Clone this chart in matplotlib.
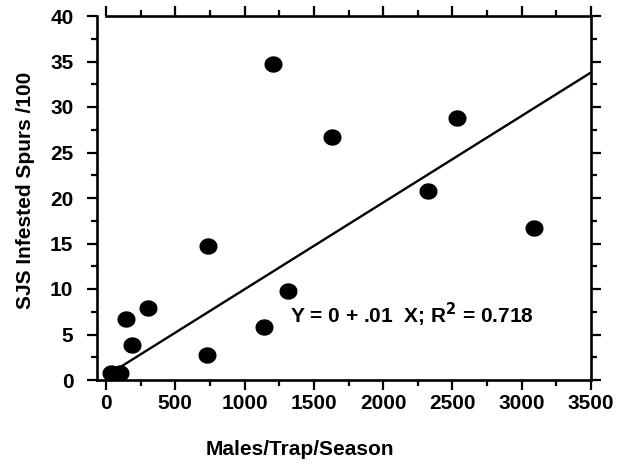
import matplotlib
matplotlib.use('Agg')
import matplotlib.pyplot as plt
from matplotlib.ticker import MultipleLocator
import numpy as np

# data
males = [36, 101, 144, 188, 303, 729, 736, 1140, 1205, 1313, 1631, 2324, 2533, 3088]
spurs = [0.8, 0.8, 6.7, 3.85, 7.9, 2.75, 14.7, 5.8, 34.7, 9.8, 26.7, 20.8, 28.8, 16.7]
fit_intercept = 0.44
fit_slope = 0.00953
fit_label = r'Y = 0 + .01  X; R$^\mathbf{2}$ = 0.718'

plt.rcParams['font.family'] = ['Liberation Sans', 'DejaVu Sans']
plt.rcParams['font.weight'] = 'bold'
plt.rcParams['mathtext.default'] = 'bf'

fig = plt.figure(figsize=(6.23, 4.66), dpi=100)
ax = fig.add_axes([97/623, 86/466, 494/623, 364/466])

# slightly flattened dot marker
t = np.linspace(0, 2*np.pi, 60)
dot = np.column_stack([np.cos(t), 0.9*np.sin(t)])
ax.plot(males, spurs, linestyle='none', marker=dot, markersize=12,
        color='black', zorder=3)

xfit = np.array([min(males), 3500])
ax.plot(xfit, fit_intercept + fit_slope*xfit, color='black', lw=1.7, zorder=2)

ax.text(1328, 7.1, fit_label, fontsize=15, fontweight='bold', va='center', ha='left')

ax.set_xlim(-65, 3500)
ax.set_ylim(0, 40)
ax.spines['top'].set_bounds(0, 3500)
for s in ax.spines.values():
    s.set_linewidth(1.9)

ax.xaxis.set_major_locator(MultipleLocator(500))
ax.xaxis.set_minor_locator(MultipleLocator(250))
ax.yaxis.set_major_locator(MultipleLocator(5))
ax.yaxis.set_minor_locator(MultipleLocator(2.5))
ax.tick_params(which='both', direction='out', width=1.6, top=True, right=True,
               labelsize=15)
ax.tick_params(which='major', length=7)
ax.tick_params(which='minor', length=4.5)
ax.tick_params(axis='y', which='major', pad=10)
ax.tick_params(axis='x', which='major', pad=3)

ax.set_xlabel('Males/Trap/Season', fontsize=15, fontweight='bold')
ax.xaxis.set_label_coords((300-97)/494, -(440-380)/364)
ax.set_ylabel('SJS Infested Spurs /100', fontsize=15, fontweight='bold')
ax.yaxis.set_label_coords(-(97-35)/494, (380-190)/364)

fig.savefig('out.png', dpi=100)
